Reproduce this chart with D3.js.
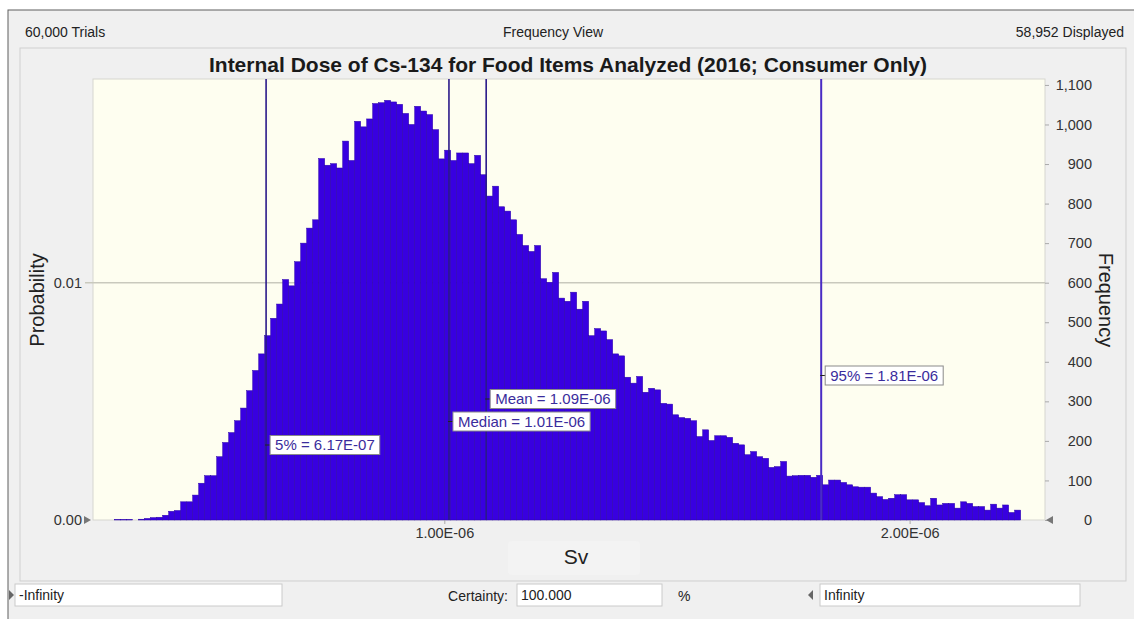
<!DOCTYPE html>
<html>
<head>
<meta charset="utf-8">
<script src="https://cdn.jsdelivr.net/npm/d3@7"></script>
<style>
  body { margin: 0; background: #fff; }
  svg { display: block; font-family: "Liberation Sans", Arial, sans-serif; }
</style>
</head>
<body>
<div id="chart"></div>
<script>
// values
const trials = 60000;
const displayed = 58952;
const binStart = 0.2787e-6;   // left edge of first bin (Sv)
const binWidth = 1.2895e-8;   // bin width (Sv)
const frequencies = [
  0, 1, 1, 1, 0, 2, 4, 6, 7, 12,
  22, 24, 46, 46, 63, 93, 112, 112, 160, 196,
  221, 251, 283, 327, 378, 420, 466, 510, 546, 608,
  592, 653, 700, 738, 759, 914, 897, 901, 890, 958,
  909, 1008, 994, 1014, 1053, 1055, 1061, 1057, 1051, 1028,
  1000, 1046, 1034, 1025, 987, 913, 935, 909, 928, 928,
  901, 922, 873, 819, 844, 792, 781, 759, 722, 694,
  679, 694, 610, 601, 626, 561, 553, 576, 533, 553,
  466, 484, 478, 456, 420, 415, 361, 346, 363, 323,
  333, 329, 295, 293, 266, 259, 257, 251, 211, 228,
  201, 213, 213, 209, 194, 190, 165, 173, 160, 156,
  133, 135, 148, 111, 112, 113, 113, 108, 113, 89,
  101, 101, 95, 89, 84, 83, 83, 68, 59, 52,
  55, 64, 64, 51, 51, 44, 36, 55, 38, 42,
  42, 30, 46, 42, 34, 34, 25, 40, 30, 38,
  19, 25
];
const percentileNames = ['5%', 'Median', 'Mean', '95%'];
const percentileValues = [6.17e-7, 1.01e-6, 1.09e-6, 1.81e-6];
const freqTicks = d3.range(0, 1101, 100);
const probTicks = [0, 0.01];
const xTicks = [1e-6, 2e-6];
const xDomain = [0.245e-6, 2.291e-6];
const freqMax = 1115;

const W = 1134, H = 619;
const plot = { left: 93, right: 1045, top: 79, bottom: 520 };

const svg = d3.select('#chart').append('svg')
    .attr('width', W)
    .attr('height', H);

const x = d3.scaleLinear().domain(xDomain).range([plot.left, plot.right]);
const yFreq = d3.scaleLinear().domain([0, freqMax]).range([plot.bottom, plot.top]);
const yProb = d3.scaleLinear().domain([0, freqMax / trials]).range([plot.bottom, plot.top]);

function fmtE(v) {
  const [m, e] = v.toExponential(2).split('e');
  const n = +e;
  return m + 'E' + (n < 0 ? '-' : '+') + String(Math.abs(n)).padStart(2, '0');
}

// window frame
svg.append('rect').attr('x', 8).attr('y', 10).attr('width', W).attr('height', H)
    .attr('fill', '#f0f0f0').attr('stroke', '#5e5e5e');
svg.append('rect').attr('x', 20).attr('y', 48).attr('width', 1106).attr('height', 533)
    .attr('fill', '#f0f0f0').attr('stroke', '#cfcfcf');

// header line
const head = svg.append('g').attr('font-size', 14).attr('fill', '#222');
head.append('text').attr('x', 25).attr('y', 37).text(d3.format(',')(trials) + ' Trials');
head.append('text').attr('x', 553).attr('y', 37).attr('text-anchor', 'middle').text('Frequency View');
head.append('text').attr('x', 1124).attr('y', 37).attr('text-anchor', 'end')
    .text(d3.format(',')(displayed) + ' Displayed');

// title
svg.append('text').attr('x', 568).attr('y', 72).attr('text-anchor', 'middle')
    .attr('font-size', 21).attr('font-weight', 'bold').attr('fill', '#1a1a1a')
    .text('Internal Dose of Cs-134 for Food Items Analyzed (2016; Consumer Only)');

// plot area
svg.append('rect')
    .attr('x', plot.left).attr('y', plot.top)
    .attr('width', plot.right - plot.left).attr('height', plot.bottom - plot.top)
    .attr('fill', '#fefef0').attr('stroke', '#d6d6d0');

// grid line at 0.01
svg.append('line')
    .attr('x1', plot.left - 8).attr('x2', plot.right)
    .attr('y1', yProb(0.01)).attr('y2', yProb(0.01))
    .attr('stroke', '#c9c9bd').attr('stroke-width', 1.5);

// bars
svg.append('g').selectAll('rect')
    .data(frequencies)
    .join('rect')
    .attr('x', (d, i) => x(binStart + i * binWidth))
    .attr('width', (d, i) => x(binStart + (i + 1) * binWidth) - x(binStart + i * binWidth))
    .attr('y', d => yFreq(d))
    .attr('height', d => yFreq(0) - yFreq(d))
    .attr('fill', '#3800e0')
    .attr('stroke', '#2a00aa')
    .attr('stroke-width', 0.5);

// percentile lines
svg.append('g').selectAll('line')
    .data(percentileValues)
    .join('line')
    .attr('x1', d => x(d)).attr('x2', d => x(d))
    .attr('y1', plot.top).attr('y2', plot.bottom)
    .attr('stroke', (d, i) => i === 3 ? '#4a2cc4' : '#2b1a8a')
    .attr('stroke-width', (d, i) => i === 3 ? 2 : 1.6);

// percentile labels (vertical placement as in reference)
const labelRowY = [445, 421.5, 399, 375.5];
const labels = svg.append('g').selectAll('g')
    .data(percentileValues)
    .join('g')
    .attr('transform', (d, i) => `translate(${x(d)},${labelRowY[i]})`);
labels.append('line').attr('x1', -1).attr('x2', 5).attr('stroke', '#222');
labels.append('text')
    .attr('x', 9).attr('dy', '0.36em')
    .attr('font-size', 15).attr('fill', '#3a2c9c')
    .text((d, i) => percentileNames[i] + ' = ' + fmtE(d));
labels.insert('rect', 'text')
    .attr('x', 4).attr('y', -9.5).attr('height', 19)
    .attr('width', function () { return this.parentNode.querySelector('text').getComputedTextLength() + 10; })
    .attr('fill', '#fff').attr('stroke', '#8a8a8a');

// right frequency axis
const rightAxis = svg.append('g')
    .attr('transform', `translate(${plot.right},0)`)
    .call(d3.axisRight(yFreq).tickValues(freqTicks).tickFormat(d3.format(',')).tickSize(4));
rightAxis.select('.domain').remove();
rightAxis.selectAll('line').attr('stroke', '#aaa');
rightAxis.selectAll('text').attr('x', 47).attr('text-anchor', 'end')
    .attr('font-size', 14.5).attr('fill', '#333').attr('font-family', null);

// left probability axis
const leftAxis = svg.append('g')
    .attr('transform', `translate(${plot.left},0)`)
    .call(d3.axisLeft(yProb).tickValues(probTicks).tickFormat(d3.format('.2f')).tickSize(0).tickPadding(11));
leftAxis.select('.domain').remove();
leftAxis.selectAll('text').attr('font-size', 14.5).attr('fill', '#333').attr('font-family', null);

// bottom axis
const bottomAxis = svg.append('g')
    .attr('transform', `translate(0,${plot.bottom})`)
    .call(d3.axisBottom(x).tickValues(xTicks).tickFormat(fmtE).tickSize(4).tickPadding(4));
bottomAxis.select('.domain').remove();
bottomAxis.selectAll('line').attr('stroke', '#aaa');
bottomAxis.selectAll('text').attr('font-size', 14.5).attr('fill', '#333').attr('font-family', null);

// grab markers at the axis ends
svg.append('path').attr('d', `M${plot.left - 9},${plot.bottom - 4}L${plot.left - 2},${plot.bottom}L${plot.left - 9},${plot.bottom + 4}Z`)
    .attr('fill', '#777');
svg.append('path').attr('d', `M${plot.right + 8},${plot.bottom - 4}L${plot.right + 1},${plot.bottom}L${plot.right + 8},${plot.bottom + 4}Z`)
    .attr('fill', '#777');

// axis titles
svg.append('text').attr('transform', 'translate(44,300) rotate(-90)')
    .attr('text-anchor', 'middle').attr('font-size', 20).attr('fill', '#222').text('Probability');
svg.append('text').attr('transform', 'translate(1099,300) rotate(90)')
    .attr('text-anchor', 'middle').attr('font-size', 20).attr('fill', '#222').text('Frequency');
svg.append('rect').attr('x', 508).attr('y', 541).attr('width', 132).attr('height', 34)
    .attr('rx', 4).attr('fill', '#f3f3f3');
svg.append('text').attr('x', 576).attr('y', 564).attr('text-anchor', 'middle')
    .attr('font-size', 21).attr('fill', '#222').text('Sv');

// bottom controls
const ctl = svg.append('g').attr('font-size', 14).attr('fill', '#222');
ctl.append('path').attr('d', 'M9,590L14,595L9,600Z').attr('fill', '#666');
ctl.append('rect').attr('x', 15).attr('y', 584).attr('width', 267).attr('height', 22)
    .attr('fill', '#fff').attr('stroke', '#cacaca');
ctl.append('text').attr('x', 19).attr('y', 600).text('-Infinity');
ctl.append('text').attr('x', 508).attr('y', 601).attr('text-anchor', 'end').text('Certainty:');
ctl.append('rect').attr('x', 517).attr('y', 584).attr('width', 145).attr('height', 22)
    .attr('fill', '#fff').attr('stroke', '#cacaca');
ctl.append('text').attr('x', 521).attr('y', 600).text('100.000');
ctl.append('text').attr('x', 678).attr('y', 601).text('%');
ctl.append('path').attr('d', 'M813,590L808,595L813,600Z').attr('fill', '#666');
ctl.append('rect').attr('x', 820).attr('y', 584).attr('width', 260).attr('height', 22)
    .attr('fill', '#fff').attr('stroke', '#cacaca');
ctl.append('text').attr('x', 824).attr('y', 600).text('Infinity');
</script>
</body>
</html>
